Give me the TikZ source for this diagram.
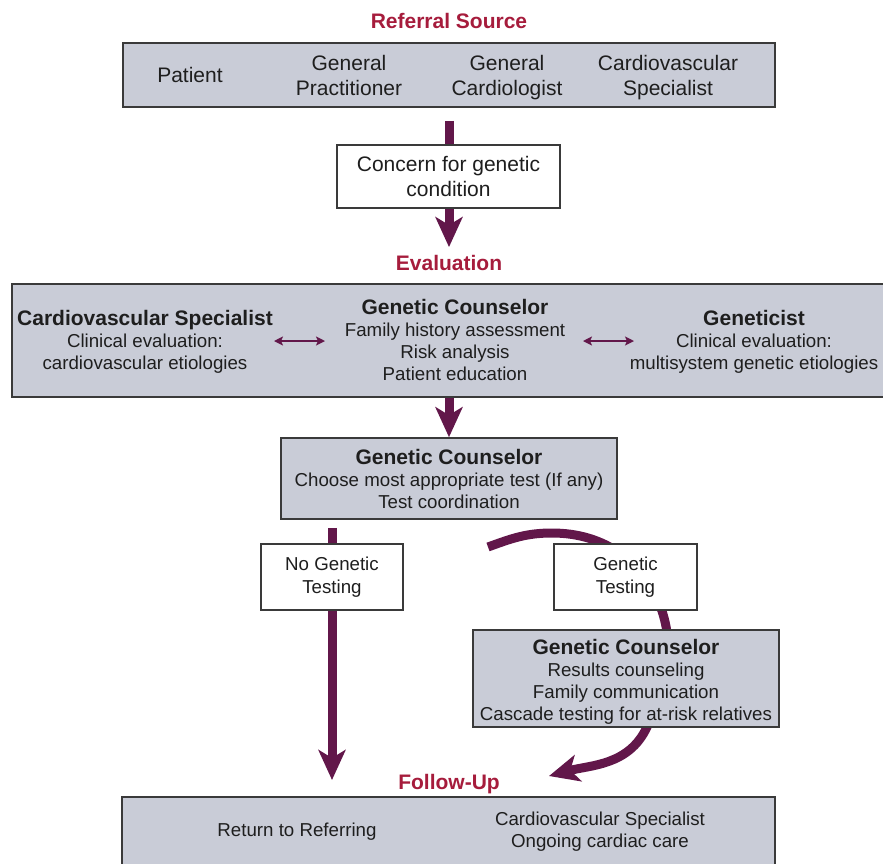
\documentclass[tikz,border=0pt]{standalone}
\usepackage{fontspec}
\setmainfont{Liberation Sans}
\usetikzlibrary{arrows.meta,backgrounds}
\definecolor{arrowc}{HTML}{62174A}
\definecolor{headc}{HTML}{A61C3C}
\definecolor{boxfill}{HTML}{C9CCD7}
\definecolor{boxline}{HTML}{3A3A3A}
\definecolor{txt}{HTML}{1E1E1E}
\begin{document}
\begin{tikzpicture}[x=1pt,y=1pt,
  graybox/.style={draw=boxline, line width=1.6pt, fill=boxfill, inner sep=0pt},
  whitebox/.style={draw=boxline, line width=1.2pt, fill=white, inner sep=0pt, text=txt, align=center},
  heading/.style={text=headc, font=\bfseries\fontsize{21}{24}\selectfont, anchor=base, inner sep=0pt},
  bigtxt/.style={text=txt, font=\fontsize{21}{25}\selectfont, align=center, anchor=base, inner sep=0pt},
  smalltxt/.style={text=txt, font=\fontsize{18.7}{22}\selectfont, align=center, anchor=base, inner sep=0pt},
  bigarrow/.style={draw=arrowc, line width=9pt, -{Stealth[length=30pt, width=27pt, inset=8pt]}},
  dblarrow/.style={draw=arrowc, line width=1.5pt, {Stealth[length=9pt, width=9pt, inset=2pt]}-{Stealth[length=9pt, width=9pt, inset=2pt]}}
]
\useasboundingbox (0,0) rectangle (883,-863);
\clip (0,0) rectangle (883,-863);

% Referral source
\node[heading] (refhead) at (449,-28.5) {Referral Source};
\node[graybox, minimum width=652pt, minimum height=64pt] (topbox) at (449,-75) {};
\node[bigtxt] (patient) at (190,-82.5) {Patient};
\node[bigtxt] (gp) at (349,-95.5) {General\\Practitioner};
\node[bigtxt] (gcard) at (507,-95.5) {General\\Cardiologist};
\node[bigtxt] (cvsref) at (668,-95.5) {Cardiovascular\\Specialist};

\node[whitebox, minimum width=223pt, minimum height=63pt, font=\fontsize{21}{25}\selectfont] (concern) at (448.5,-176.5) {Concern for genetic\\condition};

% Evaluation
\node[heading] (evalhead) at (449,-270.5) {Evaluation};
\node[graybox, minimum width=890pt, minimum height=113pt] (evalbox) at (457,-340.5) {};
\node[smalltxt] (cvse) at (145,-369.7) {{\bfseries\fontsize{21}{22}\selectfont Cardiovascular Specialist}\\Clinical evaluation:\\cardiovascular etiologies};
\node[smalltxt] (gce) at (455,-380.7) {{\bfseries\fontsize{21}{22}\selectfont Genetic Counselor}\\Family history assessment\\Risk analysis\\Patient education};
\node[smalltxt] (gene) at (754,-369.7) {{\bfseries\fontsize{21}{22}\selectfont Geneticist}\\Clinical evaluation:\\multisystem genetic etiologies};
\coordinate (la1) at (274,-341);
\coordinate (la2) at (325,-341);
\coordinate (ra1) at (583,-341);
\coordinate (ra2) at (634,-341);
\draw[dblarrow] (la1) -- (la2);
\draw[dblarrow] (ra1) -- (ra2);

% Genetic counselor test choice
\node[graybox, minimum width=336pt, minimum height=81pt] (gc1) at (449,-478.5) {};
\node[smalltxt] (gc1t) at (449,-508.7) {{\bfseries\fontsize{21}{22}\selectfont Genetic Counselor}\\Choose most appropriate test (If any)\\Test coordination};

\node[whitebox, minimum width=142pt, minimum height=66pt, font=\fontsize{18.7}{23}\selectfont] (nogt) at (332,-577) {No Genetic\\Testing};
\node[whitebox, minimum width=143pt, minimum height=66pt, font=\fontsize{18.7}{23}\selectfont] (gt) at (625.5,-577) {Genetic\\Testing};

\node[graybox, minimum width=306pt, minimum height=97pt] (gc2) at (626,-678.5) {};
\node[smalltxt] (gc2t) at (626,-720.7) {{\bfseries\fontsize{21}{22}\selectfont Genetic Counselor}\\Results counseling\\Family communication\\Cascade testing for at-risk relatives};

% Follow-up
\node[heading] (fuhead) at (449,-789.5) {Follow-Up};
\node[graybox, minimum width=653pt, minimum height=90pt] (fubox) at (448.5,-842) {};
\node[smalltxt] (ret) at (297,-836.7) {Return to Referring};
\node[smalltxt] (cvsf) at (600,-847.7) {Cardiovascular Specialist\\Ongoing cardiac care};

% Connectors
\coordinate (nogtTip) at (332,-780);
\coordinate (gtStart) at (488,-547);
\coordinate (gtTop) at (552,-533);
\coordinate (gtMid) at (662,-611);
\coordinate (gtOut) at (647,-727);
\coordinate (gtTip) at (549,-776);
\begin{scope}[on background layer]
\fill[white] (0,0) rectangle (883,-863);
\draw[bigarrow, shorten <=13pt, shorten >=8pt] (topbox.south) -- (evalhead.north);
\draw[bigarrow] (evalbox.south -| gc1.north) -- (gc1.north);
\draw[bigarrow, shorten <=8pt] (gc1.south -| nogt.center) -- (nogtTip);
\draw[bigarrow] (gtStart) to[out=20,in=180] (gtTop) to[out=0,in=110] (gtMid)
   to[out=-72,in=70] (gtOut) to[out=-115,in=15] (gtTip);
\end{scope}
\end{tikzpicture}
\end{document}
